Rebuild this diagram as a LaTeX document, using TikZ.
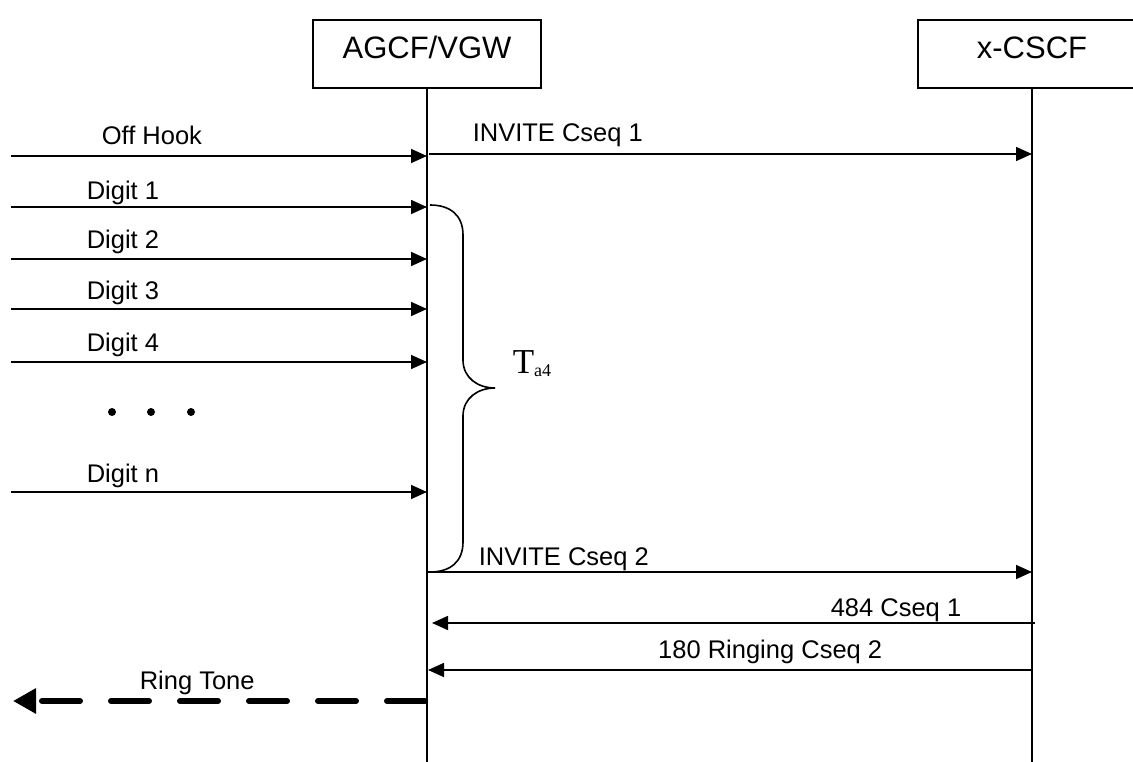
\documentclass[tikz,border=0pt]{standalone}
\usepackage{fontspec}
\setmainfont{Liberation Sans}
\newfontfamily\tser{Liberation Serif}
\usetikzlibrary{arrows.meta}
\begin{document}
\begin{tikzpicture}[x=1pt,y=-1pt,line width=1.6pt,
  box/.style={draw,minimum width=228pt,minimum height=68pt,inner sep=0pt,text height=22pt,text depth=12pt,font=\fontsize{31}{36}\selectfont},
  lbl/.style={anchor=base west,inner sep=0pt,font=\fontsize{25.5}{30}\selectfont},
  lble/.style={anchor=base east,inner sep=0pt,font=\fontsize{25.5}{30}\selectfont},
  msg/.style={-{Triangle[length=16pt,width=14pt]}},
  tone/.style={line width=6pt,line cap=round,dash pattern=on 38pt off 31pt,-{Triangle[length=23pt,width=24pt]}},
  dotn/.style={circle,fill,inner sep=0pt,minimum size=8pt}]
\useasboundingbox (0,0) rectangle (1133,762);
% lifeline heads
\node[box] (agcf) at (427,54) {AGCF/VGW};
\node[box] (xcscf) at (1032,54) {x-CSCF};
\coordinate (agcfB) at (427,762);
\coordinate (xcscfB) at (1032,762);
\draw (agcf.south) -- (agcfB);
\draw (xcscf.south) -- (xcscfB);
% coordinates of messages
\coordinate (offL) at (11,156);   \coordinate (offR) at (427,156);
\coordinate (inv1L) at (429,154); \coordinate (inv1R) at (1032,154);
\coordinate (d1L) at (11,207);    \coordinate (d1R) at (427,207);
\coordinate (d2L) at (11,259);    \coordinate (d2R) at (427,259);
\coordinate (d3L) at (11,309);    \coordinate (d3R) at (427,309);
\coordinate (d4L) at (11,362);    \coordinate (d4R) at (427,362);
\coordinate (dnL) at (11,492);    \coordinate (dnR) at (427,492);
\coordinate (inv2L) at (427,572); \coordinate (inv2R) at (1032,572);
\coordinate (r484L) at (432,623); \coordinate (r484R) at (1035,623);
\coordinate (r180L) at (428,670); \coordinate (r180R) at (1032,670);
\coordinate (ringR) at (425,701); \coordinate (ringL) at (13,701);
% messages
\draw[msg] (offL) -- (offR);
\draw[msg] (inv1L) -- (inv1R);
\draw[msg] (d1L) -- (d1R);
\draw[msg] (d2L) -- (d2R);
\draw[msg] (d3L) -- (d3R);
\draw[msg] (d4L) -- (d4R);
\draw[msg] (dnL) -- (dnR);
\draw[msg] (inv2L) -- (inv2R);
\draw[msg] (r484R) -- (r484L);
\draw[msg] (r180R) -- (r180L);
\draw[tone] (ringR) -- (ringL);
% labels
\node[lbl] (lOff) at (101,145) {Off Hook};
\node[lbl] (lInv1) at (472,142) {INVITE Cseq 1};
\node[lbl] (lD1) at (86,200) {Digit 1};
\node[lbl] (lD2) at (86,249) {Digit 2};
\node[lbl] (lD3) at (86,299) {Digit 3};
\node[lbl] (lD4) at (86,351) {Digit 4};
\node[lbl] (lDn) at (86,482) {Digit n};
\node[lbl] (lInv2) at (478,565) {INVITE Cseq 2};
\node[lbl] (l484) at (830,616) {484 Cseq 1};
\node[lble] (l180) at (883,658) {180 Ringing Cseq 2};
\node[lbl] (lRing) at (139,689) {Ring Tone};
% dots
\node[dotn] (dot1) at (112,412) {};
\node[dotn] (dot2) at (151,412) {};
\node[dotn] (dot3) at (191,412) {};
% brace
\draw (430,205) .. controls (450,205) and (463,215) .. (463,235)
  -- (463,360) .. controls (463,378) and (478,388) .. (495,388)
  .. controls (478,388) and (463,398) .. (463,416)
  -- (463,542) .. controls (463,562) and (450,572) .. (430,572);
\node[anchor=base west,inner sep=0pt] (ta4) at (512,373)
  {{\tser\fontsize{35}{38}\selectfont T}{\tser\fontsize{18}{20}\selectfont\raisebox{-3pt}{a4}}};
\end{tikzpicture}
\end{document}
